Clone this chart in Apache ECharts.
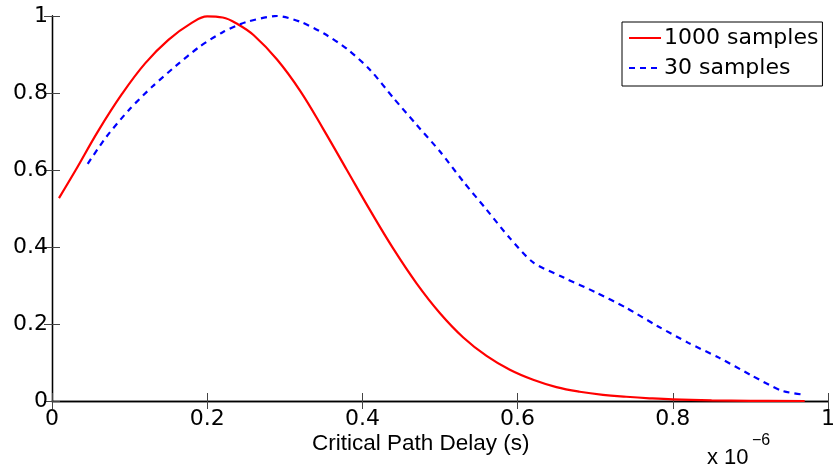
<!DOCTYPE html>
<html>
<head>
<meta charset="utf-8">
<script src="https://cdn.jsdelivr.net/npm/echarts@6/dist/echarts.min.js"></script>
<style>html,body{margin:0;padding:0;background:#fff}#c{width:838px;height:473px}</style>
</head>
<body>
<div id="c"></div>
<script>
// x values are in units of 1e-6 s (axis shows "x 10^-6")
var seriesNames = ['1000 samples', '30 samples'];
var redX = [0.009,0.03,0.06,0.09,0.12,0.15,0.18,0.20,0.22,0.24,0.26,0.29,0.32,0.35,0.38,0.41,0.44,0.47,0.50,0.53,0.56,0.59,0.62,0.65,0.68,0.71,0.74,0.77,0.80,0.85,0.90,0.97];
var redY = [0.527,0.598,0.703,0.797,0.877,0.938,0.982,0.999,0.996,0.978,0.950,0.887,0.805,0.705,0.600,0.495,0.395,0.305,0.228,0.165,0.117,0.081,0.055,0.036,0.024,0.016,0.011,0.007,0.004,0.0015,0.0005,0.0];
var blueX = [0.046,0.07,0.10,0.13,0.16,0.19,0.22,0.25,0.29,0.32,0.35,0.38,0.41,0.44,0.47,0.50,0.53,0.56,0.59,0.62,0.66,0.70,0.74,0.78,0.82,0.86,0.90,0.94,0.97];
var blueY = [0.616,0.686,0.758,0.818,0.871,0.920,0.958,0.984,1.0,0.985,0.955,0.915,0.86,0.787,0.717,0.648,0.57,0.497,0.423,0.36,0.32,0.283,0.242,0.195,0.151,0.112,0.068,0.027,0.016];
var xTicks = [0, 0.2, 0.4, 0.6, 0.8, 1];
var yTicks = [0, 0.2, 0.4, 0.6, 0.8, 1];
var xTitle = 'Critical Path Delay (s)';

function pairs(xs, ys){ return xs.map(function(x,i){ return [x, ys[i]]; }); }

var tickFont = 'DejaVu Sans, sans-serif';
var chart = echarts.init(document.getElementById('c'), null, {renderer:'canvas'});
var tickStyle = {show:true, inside:true, length:8, lineStyle:{color:'#444', width:1}};
var lineAx = {show:true, lineStyle:{color:'#000', width:1.3}};
function fmt(v){ return String(+v.toFixed(1)); }
chart.setOption({
  animation:false,
  backgroundColor:'#fff',
  grid:{left:52, right:7, top:16, bottom:72, show:false},
  xAxis:[{
    type:'value', min:xTicks[0], max:xTicks[xTicks.length-1], interval:0.2,
    position:'bottom',
    axisLine:lineAx, axisTick:tickStyle, splitLine:{show:false},
    axisLabel:{color:'#000', fontFamily:tickFont, fontSize:22, margin:7, formatter:fmt}
  },{
    type:'value', min:xTicks[0], max:xTicks[xTicks.length-1], interval:0.2,
    position:'top',
    axisLine:lineAx, axisTick:tickStyle, axisLabel:{show:false}, splitLine:{show:false}
  }],
  yAxis:[{
    type:'value', min:yTicks[0], max:yTicks[yTicks.length-1], interval:0.2,
    position:'left',
    axisLine:lineAx, axisTick:tickStyle, splitLine:{show:false},
    axisLabel:{color:'#000', fontFamily:tickFont, fontSize:22, margin:4, formatter:fmt}
  },{
    type:'value', min:yTicks[0], max:yTicks[yTicks.length-1], interval:0.2,
    position:'right',
    axisLine:lineAx, axisTick:tickStyle, axisLabel:{show:false}, splitLine:{show:false}
  }],
  legend:{
    orient:'vertical', left:622, top:22,
    padding:[4,4,6,6], itemGap:6, itemWidth:32, itemHeight:14,
    backgroundColor:'#fff', borderColor:'#000', borderWidth:1, borderRadius:0,
    itemStyle:{opacity:0},
    textStyle:{color:'#000', fontFamily:tickFont, fontSize:22, lineHeight:24, padding:[0,0,0,-2]},
    data:seriesNames
  },
  series:[{
    name:seriesNames[0], type:'line', data:pairs(redX, redY), smooth:0.4,
    showSymbol:false, symbol:'none',
    lineStyle:{color:'#ff0000', width:2.2}, itemStyle:{color:'#ff0000'}
  },{
    name:seriesNames[1], type:'line', data:pairs(blueX, blueY), smooth:0.25,
    showSymbol:false, symbol:'none',
    lineStyle:{color:'#0000ff', width:2.2, type:[6,5]}, itemStyle:{color:'#0000ff'}
  }],
  graphic:[{
    type:'text', left:312, top:432,
    style:{text:xTitle, fill:'#000', font:'22.5px Liberation Sans, Arial, sans-serif'}
  },{
    type:'text', left:707, top:447,
    style:{text:'x 10', fill:'#000', font:'22px Liberation Sans, Arial, sans-serif'}
  },{
    type:'text', left:752, top:433,
    style:{text:'\u22126', fill:'#000', font:'16px Liberation Sans, Arial, sans-serif'}
  }]
});
</script>
</body>
</html>
